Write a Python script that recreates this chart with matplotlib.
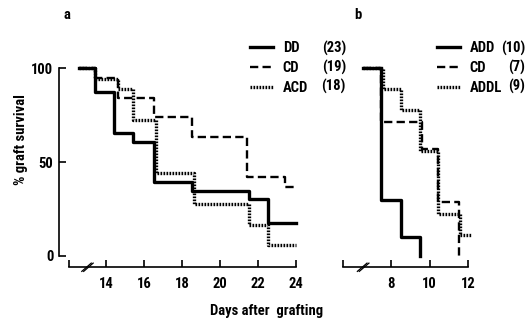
import matplotlib
matplotlib.use('Agg')
import matplotlib.pyplot as plt
from matplotlib.lines import Line2D

plt.rcParams['font.family'] = ['Roboto Condensed', 'DejaVu Sans']
plt.rcParams['font.weight'] = 'bold'

# Panel a: days and % graft survival (Kaplan-Meier steps)
dd_days = [12.55, 13.4, 14.4, 15.4, 16.5, 18.5, 21.5, 22.5, 24.0]
dd_surv = [100, 87.0, 65.2, 60.9, 39.1, 34.8, 30.4, 17.4, 17.4]
cd_a_days = [12.55, 13.4, 14.6, 16.5, 18.5, 21.4, 23.4, 24.0]
cd_a_surv = [100, 94.7, 84.2, 73.7, 63.2, 42.1, 36.8, 36.8]
acd_days = [12.55, 13.4, 14.6, 15.4, 16.6, 18.6, 21.5, 22.5, 24.0]
acd_surv = [100, 94.4, 88.9, 72.2, 44.4, 27.8, 16.7, 5.6, 5.6]

# Panel b
add_days = [6.55, 7.5, 8.5, 9.5]
add_surv = [100, 30, 10, 0]
cd_b_days = [6.55, 7.5, 9.6, 10.45, 11.5]
cd_b_surv = [100, 71.4, 57.1, 28.6, 0]
addl_days = [6.55, 7.6, 8.5, 9.5, 10.45, 11.55, 12.45]
addl_surv = [100, 88.9, 77.8, 55.6, 22.2, 11.1, 0]

names_a = ['DD', 'CD', 'ACD']
counts_a = ['(23)', '(19)', '(18)']
names_b = ['ADD', 'CD', 'ADDL']
counts_b = ['(10)', '(7)', '(9)']

ticks_a = [12, 14, 16, 18, 20, 22, 24]
ticklabels_a = ['', '14', '16', '18', '20', '22', '24']
ticks_b = [5.5, 8, 10, 12]
ticklabels_b = ['', '8', '10', '12']

fs = 10.5
solid = dict(color='black', lw=2.4, linestyle='-')
dashed = dict(color='black', lw=1.7, linestyle=(0, (3.5, 1.8)))
dotted = dict(color='black', lw=2.4, linestyle=(0, (0.5, 0.4)))

fig = plt.figure(figsize=(5.27, 3.20), dpi=100)
ax_a = fig.add_axes([0.112, 0.159, 0.457, 0.646])
ax_b = fig.add_axes([0.647, 0.159, 0.249, 0.646])

ax_a.step(dd_days, dd_surv, where='post', **solid)
ax_a.step(cd_a_days, cd_a_surv, where='post', **dashed)
ax_a.step(acd_days, acd_surv, where='post', **dotted)

ax_b.step(add_days, add_surv, where='post', **solid)
ax_b.step(cd_b_days, cd_b_surv, where='post', **dashed)
ax_b.step(addl_days, addl_surv, where='post', **dotted)

ax_a.set_xlim(11.5, 24.2)
ax_b.set_xlim(5.4, 12.2)
for ax in (ax_a, ax_b):
    ax.set_ylim(-7, 103)
    ax.spines['top'].set_visible(False)
    ax.spines['right'].set_visible(False)
    ax.spines['bottom'].set_position(('data', -6))
    ax.spines['bottom'].set_linewidth(1.2)
    ax.tick_params(axis='x', direction='in', length=5, width=1.2, pad=7, labelsize=fs)
    ax.tick_params(axis='y', direction='in', length=5, width=1.2, pad=4, labelsize=fs)

ax_a.spines['bottom'].set_bounds(12, 24)
ax_a.spines['left'].set_bounds(0, 100)
ax_a.spines['left'].set_linewidth(1.2)
ax_a.set_xticks(ticks_a)
ax_a.set_xticklabels(ticklabels_a)
ax_a.set_yticks([0, 50, 100])
ax_a.set_yticklabels(['0', '50', '100'])

ax_b.spines['bottom'].set_bounds(5.5, 12)
ax_b.spines['left'].set_visible(False)
ax_b.set_yticks([])
ax_b.set_xticks(ticks_b)
ax_b.set_xticklabels(ticklabels_b)

# axis break marks
for ax, xb, dx in ((ax_a, 13.0, 0.05), (ax_b, 6.55, 0.05)):
    for off in (-dx, dx):
        ax.plot([xb + off - 0.25, xb + off + 0.25], [-8.2, -3.8],
                color='black', lw=0.9, clip_on=False)

# legends: line + name via legend, group sizes as right-aligned text
handles = [Line2D([], [], **solid), Line2D([], [], **dashed), Line2D([], [], **dotted)]
row_y = [48, 67, 86]
for ax, names, counts, x0, x1 in ((ax_a, names_a, counts_a, 250, 346),
                                  (ax_b, names_b, counts_b, 437, 525)):
    ax.legend(handles, names, loc='upper left',
              bbox_to_anchor=(x0 / 527, 1 - 41 / 320),
              bbox_transform=fig.transFigure, frameon=False,
              fontsize=fs, handlelength=1.55, handletextpad=0.7,
              borderpad=0, borderaxespad=0, labelspacing=0.42)
    for c, yy in zip(counts, row_y):
        fig.text(x1 / 527, 1 - yy / 320, c, fontsize=fs, ha='right', va='center')

fig.text(67 / 527, 1 - 15 / 320, 'a', fontsize=fs, ha='center', va='center')
fig.text(358 / 527, 1 - 15 / 320, 'b', fontsize=fs, ha='center', va='center')
fig.text(21 / 527, 1 - 140 / 320, '% graft survival', fontsize=fs, rotation=90,
         ha='center', va='center')
fig.text(267 / 527, 1 - 311 / 320, 'Days after  grafting', fontsize=fs,
         ha='center', va='center')

fig.savefig('out.png', dpi=100)
